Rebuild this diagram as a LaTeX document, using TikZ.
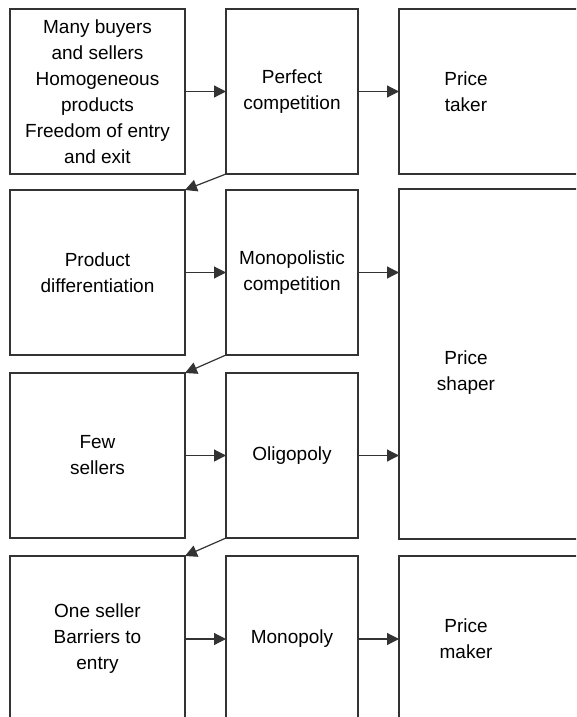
\documentclass[tikz,border=0pt]{standalone}
\usepackage{fontspec}
\setmainfont{Liberation Sans}
\usetikzlibrary{arrows.meta}

\begin{document}
\begin{tikzpicture}[x=1pt, y=-1pt,
    box/.style={draw=black!80, line width=1.2pt, align=center, inner sep=2pt, outer sep=0pt,
      anchor=north west, font=\fontsize{19}{26}\selectfont},
    wide/.style={box, minimum width=175pt, minimum height=165pt},
    narrow/.style={box, minimum width=132pt, minimum height=165pt},
    open/.style={box, draw=none, minimum width=134pt},
    link/.style={draw=black!80, line width=1.2pt, -{Triangle[length=12pt,width=12pt]}}]
    \useasboundingbox (0,0) rectangle (576,717);
    \clip (0,0) rectangle (576,717);
    % row 1
    \node[wide] (many) at (10,9) {Many buyers\\and sellers\\Homogeneous\\products\\Freedom of entry\\and exit};
    \node[narrow] (perfect) at (226,9) {Perfect\\competition};
    \node[open, minimum height=165pt] (taker) at (399,9) {Price\\taker};
    % row 2
    \node[wide] (diff) at (10,190) {Product\\differentiation};
    \node[narrow] (monocomp) at (226,190) {Monopolistic\\competition};
    \node[open, minimum height=350pt] (shaper) at (399,189) {\rule{0pt}{30pt}Price\\shaper};
    % row 3
    \node[wide] (few) at (10,373) {Few\\sellers};
    \node[narrow] (oligo) at (226,373) {Oligopoly};
    % row 4
    \node[wide, minimum height=166pt] (one) at (10,556) {One seller\\Barriers to\\entry};
    \node[narrow, minimum height=166pt] (mono) at (226,556) {Monopoly};
    \node[open, minimum height=166pt] (maker) at (399,556) {Price\\maker};
    % right column runs off the page
    \foreach \n in {taker,shaper,maker}
      \draw[draw=black!80, line width=1.2pt] (\n.north west) rectangle ([xshift=60pt]\n.south east);
    \draw[link] (many) -- (perfect);
    \draw[link] (perfect) -- (taker);
    \draw[link] (diff) -- (monocomp);
    \draw[link] (monocomp.east) -- (monocomp.east -| shaper.west);
    \draw[link] (few) -- (oligo);
    \draw[link] (oligo.east) -- (oligo.east -| shaper.west);
    \draw[link] (one) -- (mono);
    \draw[link] (mono) -- (maker);
    \draw[link] (perfect.south west) -- (diff.north east);
    \draw[link] (monocomp.south west) -- (few.north east);
    \draw[link] (oligo.south west) -- (one.north east);
  \end{tikzpicture}
\end{document}
